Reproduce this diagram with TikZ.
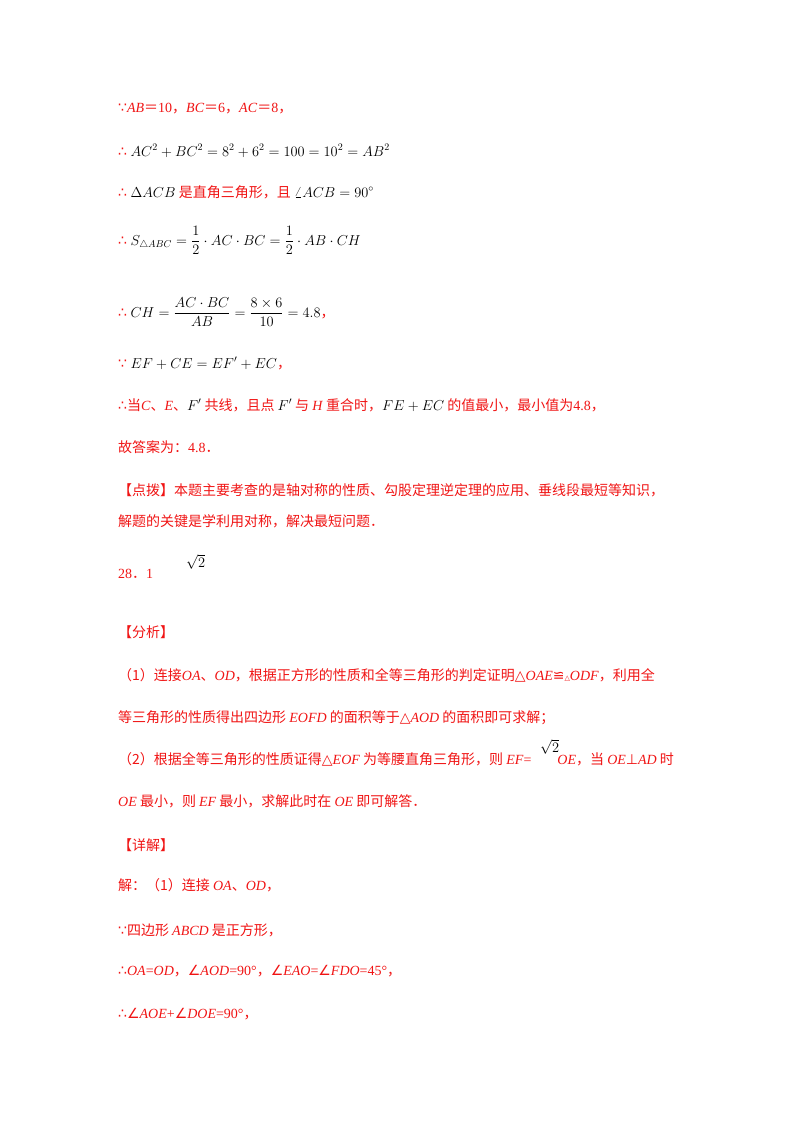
\documentclass[tikz,border=0pt]{standalone}
\usepackage{fontspec}
\usepackage{amsmath}
\setmainfont{Liberation Serif}
\newfontfamily\cjk{Noto Sans CJK SC}
\newfontfamily\djv{DejaVu Sans}
\definecolor{rd}{RGB}{240,20,20}
\newcommand\C[1]{{\cjk #1}}
\newcommand\I[1]{\textit{#1}}
\newcommand\D[1]{{\djv #1}}
\newcommand\K[1]{\textcolor{black}{#1}}
\tikzset{ln/.style={anchor=base west,inner sep=0pt,text=rd,font=\fontsize{14}{16}\selectfont}}
\begin{document}
\begin{tikzpicture}[x=1pt,y=-1pt]
\useasboundingbox (0,0) rectangle (800,1132);
\node[ln] (l1) at (118,112) {\D{∵}\I{AB}\C{＝}10\C{，}\I{BC}\C{＝}6\C{，}\I{AC}\C{＝}8\C{，}};
\node[ln] (l2) at (118,156) {\D{∴} \K{$AC^2+BC^2=8^2+6^2=100=10^2=AB^2$}};
\node[ln] (l3) at (118,197) {\D{∴} \K{$\Delta ACB$} \C{是直角三角形，且} \K{$\angle ACB=90^\circ$}};
\node[ln] (l4) at (118,245) {\D{∴} \K{$S_{\triangle ABC}=\dfrac12\cdot AC\cdot BC=\dfrac12\cdot AB\cdot CH$}};
\node[ln] (l5) at (118,317) {\D{∴} \K{$CH=\dfrac{AC\cdot BC}{AB}=\dfrac{8\times6}{10}=4.8$}\C{，}};
\node[ln] (l6) at (118,368) {\D{∵} \K{$EF+CE=EF'+EC$}\C{，}};
\node[ln] (l7) at (118,410) {\D{∴}\C{当}\I{C}\C{、}\I{E}\C{、}\K{$F'$}\C{ 共线，且点 }\K{$F'$}\C{ 与 }\I{H}\C{ 重合时，}\K{$FE+EC$}\C{ 的值最小，最小值为}4.8\C{，}};
\node[ln] (l8) at (118,452) {\C{故答案为：}4.8\C{．}};
\node[ln] (l9) at (118,495) {\C{【点拨】本题主要考查的是轴对称的性质、勾股定理逆定理的应用、垂线段最短等知识，}};
\node[ln] (l10) at (118,526) {\C{解题的关键是学利用对称，解决最短问题．}};
\node[ln] (l11) at (118,578) {28\C{．}1};
\node[ln] (s1) at (186,567) {\K{$\sqrt2$}};
\node[ln] (l12) at (118,637) {\C{【分析】}};
\node[ln] (l13) at (118,680) {\C{（1）连接}\I{OA}\C{、}\I{OD}\C{，根据正方形的性质和全等三角形的判定证明}\D{△}\I{OAE}\D{≌}\D{\scriptsize△}\I{ODF}\C{，利用全}};
\node[ln] (l14) at (118,722) {\C{等三角形的性质得出四边形 }\I{EOFD}\C{ 的面积等于}\D{△}\I{AOD}\C{ 的面积即可求解；}};
\node[ln] (l15) at (118,764) {\C{（2）根据全等三角形的性质证得}\D{△}\I{EOF}\C{ 为等腰直角三角形，则 }\I{EF}=\hspace{26pt}\I{OE}\C{，当 }\I{OE}\D{⊥}\I{AD}\C{ 时}};
\node[ln] (s2) at (540,752) {\K{$\sqrt2$}};
\node[ln] (l16) at (118,806) {\I{OE}\C{ 最小，则 }\I{EF}\C{ 最小，求解此时在 }\I{OE}\C{ 即可解答．}};
\node[ln] (l17) at (118,850) {\C{【详解】}};
\node[ln] (l18) at (118,890) {\C{解：（1）连接 }\I{OA}\C{、}\I{OD}\C{，}};
\node[ln] (l19) at (118,935) {\D{∵}\C{四边形 }\I{ABCD}\C{ 是正方形，}};
\node[ln] (l20) at (118,975) {\D{∴}\I{OA}=\I{OD}\C{，}\D{∠}\I{AOD}=90°\C{，}\D{∠}\I{EAO}=\D{∠}\I{FDO}=45°\C{，}};
\node[ln] (l21) at (118,1018) {\D{∴∠}\I{AOE}+\D{∠}\I{DOE}=90°\C{，}};
\end{tikzpicture}
\end{document}
